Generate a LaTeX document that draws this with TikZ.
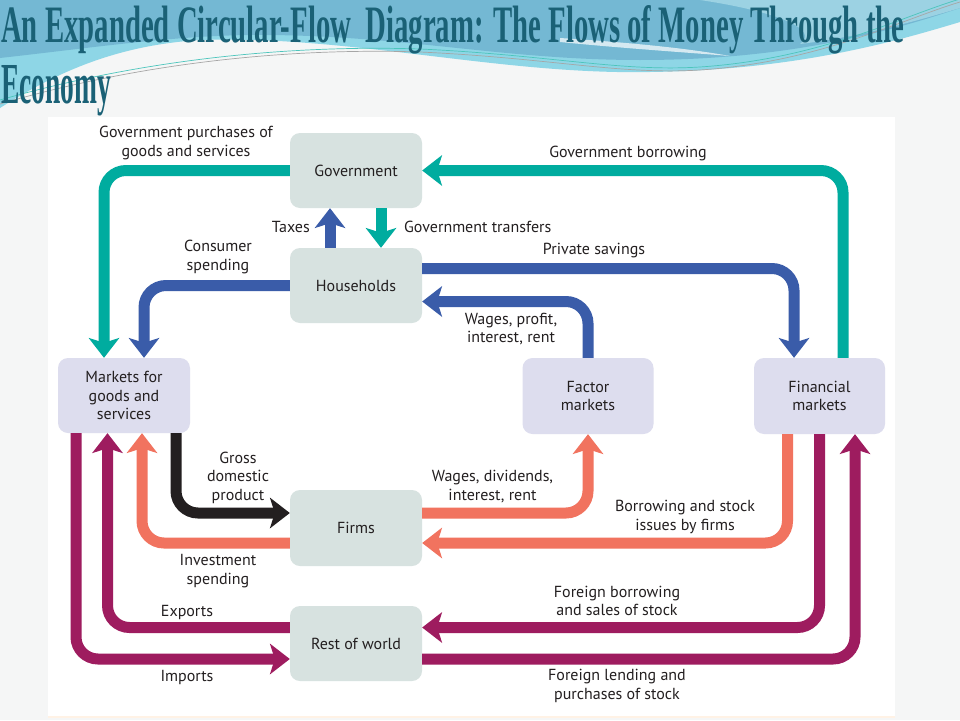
\documentclass[tikz,border=0pt]{standalone}
\usepackage{fontspec}
\usepackage{graphicx}
\setmainfont{PT Sans}
\newfontfamily\titlefont{Liberation Serif}
\usetikzlibrary{arrows.meta}
\definecolor{cteal}{HTML}{00AC9F}
\definecolor{cblue}{HTML}{3A5CA9}
\definecolor{csalmon}{HTML}{F1735F}
\definecolor{cpurple}{HTML}{9E1C5F}
\definecolor{cblack}{HTML}{231F20}
\definecolor{boxgray}{HTML}{D7E2E0}
\definecolor{boxlav}{HTML}{DDDDEE}
\definecolor{titlecol}{HTML}{1A6176}
\definecolor{swdark}{HTML}{74B8D3}
\definecolor{swlight}{HTML}{9CD2E3}
\definecolor{swcyan}{HTML}{8ED6E6}
\definecolor{bgcol}{HTML}{F5F6F6}
\begin{document}
\begin{tikzpicture}[x=1pt,y=-1pt,
  flowbox/.style={rounded corners=10pt, minimum width=132pt, minimum height=75pt, inner sep=0pt,
    align=center, font=\fontsize{16}{18.5}\selectfont, text=cblack},
  govbox/.style={flowbox, fill=boxgray},
  mktbox/.style={flowbox, fill=boxlav},
  flowarrow/.style={line width=11pt, rounded corners=22pt,
    -{Stealth[length=20pt,width=31pt,inset=5pt,line width=0pt]}},
  lbl/.style={align=center, font=\fontsize{16}{18.5}\selectfont, text=cblack, inner sep=0pt}
]
\useasboundingbox (0,0) rectangle (960,720);
% background
\fill[bgcol] (0,0) rectangle (960,720);
% swoosh
\fill[swcyan] (0,0) -- (960,0) -- (960,22) .. controls (900,40) and (800,70) .. (650,72)
  .. controls (500,75) and (350,35) .. (200,40) .. controls (120,45) and (60,70) .. (0,108) -- cycle;
\fill[swdark] (0,0) -- (960,0) -- (960,8) .. controls (880,35) and (780,60) .. (640,60)
  .. controls (500,60) and (400,34) .. (250,35) .. controls (170,36) and (90,48) .. (0,58) -- cycle;
\fill[swlight] (700,0) -- (960,0) -- (960,8) .. controls (900,26) and (850,38) .. (800,44)
  .. controls (820,30) and (780,12) .. (700,0) -- cycle;
\fill[white,opacity=0.7] (560,38) .. controls (620,42) and (680,47) .. (730,56) .. controls (680,52) and (620,48) .. (560,42) -- cycle;
\draw[gray!70, line width=0.7pt] (0,104) .. controls (150,60) and (300,48) .. (420,52)
  .. controls (550,58) and (620,75) .. (700,70) .. controls (820,62) and (900,20) .. (960,2);
\draw[cteal!70, line width=0.7pt] (0,100) .. controls (150,57) and (300,45) .. (420,49)
  .. controls (550,55) and (620,72) .. (700,67) .. controls (820,59) and (900,17) .. (960,-1);
% title
\node[anchor=base west, inner sep=0pt, text=titlecol] (title1) at (1,42)
  {\resizebox{903pt}{37pt}{\titlefont\bfseries An Expanded Circular-Flow\ \ Diagram: The Flows of Money Through the}};
\node[anchor=base west, inner sep=0pt, text=titlecol] (title2) at (1,103)
  {\resizebox{110pt}{38pt}{\titlefont\bfseries Economy}};
% panel
\fill[white] (48,117) rectangle (895,716);
\fill[orange!10] (48,716) rectangle (895,718);
% boxes
\node[govbox] (gov) at (356,170.5) {Government};
\node[govbox] (hh) at (356,285.5) {Households};
\node[mktbox] (mkt) at (124,395.5) {Markets for\\goods and\\services};
\node[mktbox, minimum height=76pt, minimum width=131pt] (fac) at (588,396) {Factor\\markets};
\node[mktbox, minimum height=76pt, minimum width=131pt] (fin) at (819.5,396) {Financial\\markets};
\node[govbox, minimum height=76pt] (firms) at (356,528) {Firms};
\node[govbox] (row) at (356,643.5) {Rest of world};
% flows
\draw[flowarrow,cteal] (gov.west) -| ([xshift=-20pt]mkt.north);
\draw[flowarrow,cteal] ([xshift=23.5pt]fin.north) |- (gov.east);
\draw[flowarrow,cblue] ([xshift=-26pt]hh.north) -- ([xshift=-26pt]gov.south);
\draw[flowarrow,cteal] ([xshift=25pt]gov.south) -- ([xshift=25pt]hh.north);
\draw[flowarrow,cblue] (hh.west) -| ([xshift=20pt]mkt.north);
\draw[flowarrow,cblue] ([yshift=17pt]hh.east) -| ([xshift=-25.5pt]fin.north);
\draw[flowarrow,cblue] (fac.north) |- ([yshift=-16pt]hh.east);
\draw[flowarrow,cblack] ([xshift=52pt]mkt.south) |- ([yshift=15pt]firms.west);
\draw[flowarrow,csalmon] ([yshift=-15pt]firms.west) -| ([xshift=18pt]mkt.south);
\draw[flowarrow,cpurple] ([yshift=16pt]row.west) -| ([xshift=-16.5pt]mkt.south);
\draw[flowarrow,cpurple] ([xshift=-48pt]mkt.south) |- ([yshift=-15.5pt]row.west);
\draw[flowarrow,csalmon] ([yshift=15pt]firms.east) -| (fac.south);
\draw[flowarrow,csalmon] ([xshift=-32pt]fin.south) |- ([yshift=-15pt]firms.east);
\draw[flowarrow,cpurple] (fin.south) |- ([yshift=16pt]row.east);
\draw[flowarrow,cpurple] ([yshift=-15.5pt]row.east) -| ([xshift=35.5pt]fin.south);
% labels
\node[lbl] (lgp) at (186,143) {Government purchases of\\goods and services};
\node[lbl] (lgb) at (628,153) {Government borrowing};
\node[lbl,anchor=east] (ltax) at (310,227) {Taxes};
\node[lbl,anchor=west] (ltr) at (404,227) {Government transfers};
\node[lbl] (lcs) at (218,257) {Consumer\\spending};
\node[lbl] (lps) at (594,251) {Private savings};
\node[lbl] (lwp) at (511,329) {Wages, profit,\\interest, rent};
\node[lbl] (lgdp) at (238,477.5) {Gross\\domestic\\product};
\node[lbl] (linv) at (218,571) {Investment\\spending};
\node[lbl] (lexp) at (187,612) {Exports};
\node[lbl] (limp) at (187,677) {Imports};
\node[lbl] (lwd) at (492.5,486.5) {Wages, dividends,\\interest, rent};
\node[lbl] (lbs) at (685,517) {Borrowing and stock\\issues by firms};
\node[lbl] (lfb) at (617,601) {Foreign borrowing\\and sales of stock};
\node[lbl] (lfl) at (617,686) {Foreign lending and\\purchases of stock};
\end{tikzpicture}
\end{document}
